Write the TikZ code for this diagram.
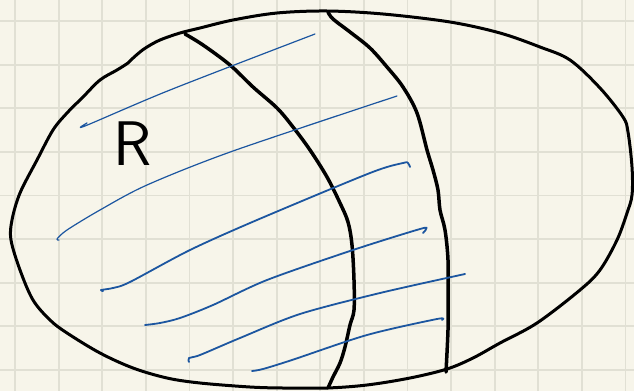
\documentclass[tikz,border=0pt]{standalone}
\definecolor{paper}{RGB}{247,245,234}
\definecolor{gridc}{RGB}{225,224,212}
\definecolor{pen}{RGB}{28,86,160}
\begin{document}
\begin{tikzpicture}[x=1pt,y=-1pt,
  bold/.style={draw=black, line width=3pt, line cap=round, line join=round},
  boldv/.style={draw=black, line width=3.5pt, line cap=round, line join=round},
  hatchthin/.style={draw=pen, line width=1.2pt, line cap=round, line join=round},
  hatchthick/.style={draw=pen, line width=1.8pt, line cap=round, line join=round},
  gridline/.style={draw=gridc, line width=1.8pt},
  letter/.style={font=\sffamily\fontsize{63}{63}\selectfont, inner sep=0pt, anchor=base}]
\fill[paper] (0,0) rectangle (634,391);
\useasboundingbox (0,0) rectangle (634,391);
\foreach \k in {0,...,14} \draw[gridline] ({15+43.6*\k},0) -- ({15+43.6*\k},391);
\foreach \k in {0,...,8} \draw[gridline] (0,{21+43.6*\k}) -- (634,{21+43.6*\k});
% outer closed outline
\draw[bold] plot[smooth cycle, tension=0.55] coordinates {
 (11,240) (12,220) (20,193) (37,160) (53,130) (67,113) (83,97) (100,80)
 (117,70) (128,63) (132,59) (140,52) (147,47) (160,40) (180,33) (200,28)
 (233,20) (277,13) (327,11) (383,14) (450,22) (500,33) (540,47) (570,60)
 (600,88) (623,117) (628,132) (632,167) (632,195) (627,213) (617,240)
 (600,270) (580,290) (537,323) (500,343) (473,358) (447,369) (410,378)
 (367,385) (327,388) (283,388) (250,387) (200,383) (167,378) (133,368)
 (100,353) (67,333) (50,320) (33,300) (20,270)};
% left dividing curve
\draw[boldv] plot[smooth, tension=0.55] coordinates {
 (185,34) (203,45) (230,65) (253,87) (277,108) (293,127) (310,150)
 (327,177) (340,203) (348,222) (352,245) (354,280) (354,310) (350,325)
 (345,347) (340,363) (333,377) (328,388)};
% right dividing curve
\draw[boldv] plot[smooth, tension=0.55] coordinates {
 (328,12) (333,19) (350,32) (370,48) (387,67) (403,87) (417,113)
 (427,150) (433,170) (438,190) (440,210) (445,230) (448,260) (448,300)
 (448,330) (446,372)};
% blue hatching
\draw[hatchthin] plot[smooth, tension=0.5] coordinates {
 (87,123) (85,126) (170,90) (315,34)};
\draw[hatchthin] plot[smooth, tension=0.5] coordinates {
 (59,240) (57,239) (67,230) (100,210) (147,185) (233,151) (397,96)};
\draw[hatchthick] plot[smooth, tension=0.5] coordinates {
 (103,291) (101,290) (113,288) (130,282) (190,250) (257,220) (370,173)
 (403,163) (408,163) (410,167)};
\draw[hatchthick] plot[smooth, tension=0.5] coordinates {
 (145,325) (160,323) (180,318) (213,305) (267,280) (353,250) (420,229)
 (426,229) (423,233)};
\draw[hatchthick] plot[smooth, tension=0.5] coordinates {
 (189,362) (189,358) (200,355) (240,338) (300,314) (380,293) (465,274)};
\draw[hatchthick] plot[smooth, tension=0.5] coordinates {
 (252,371) (263,369) (292,360) (367,335) (437,319) (442,320)};
% label
\node[letter] (R) at (133,165) {R};
\end{tikzpicture}
\end{document}
